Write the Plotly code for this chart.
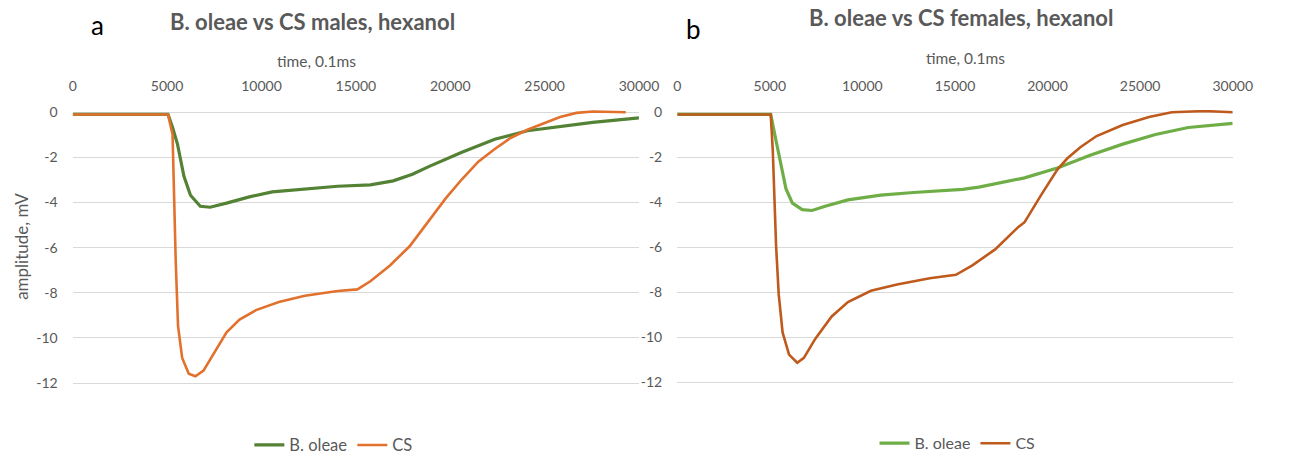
import plotly.graph_objects as go

W, H = 1290, 463

# Panel a: males (time in 0.1 ms units, amplitude in mV)
time_males_oleae = [0, 2500, 5050, 5300, 5550, 5890, 6240, 6760, 7280, 8150, 9360, 10570,
                    12300, 14040, 15770, 16980, 18000, 18890, 20620, 22360, 24090, 25820,
                    27550, 30000]
amp_males_oleae = [-0.1, -0.1, -0.1, -0.7, -1.41, -2.83, -3.68, -4.17, -4.21, -4.03, -3.75,
                   -3.53, -3.39, -3.28, -3.22, -3.04, -2.75, -2.40, -1.77, -1.20, -0.82,
                   -0.64, -0.45, -0.25]

time_males_cs = [0, 2500, 5050, 5290, 5370, 5460, 5580, 5800, 6150, 6500, 6930, 7450, 8150,
                 8840, 9710, 10920, 12300, 14040, 15080, 15770, 16810, 17850, 18890, 19760,
                 20620, 21490, 22360, 23220, 24090, 24960, 25820, 26690, 27550, 29300]
amp_males_cs = [-0.1, -0.1, -0.1, -0.99, -3.82, -6.65, -9.47, -10.89, -11.59, -11.70, -11.45,
                -10.74, -9.75, -9.19, -8.77, -8.41, -8.13, -7.92, -7.85, -7.49, -6.79, -5.94,
                -4.81, -3.82, -2.97, -2.19, -1.63, -1.13, -0.78, -0.49, -0.21, -0.03, 0.03,
                0.0]

# Panel b: females
time_females_oleae = [0, 2500, 5050, 5340, 5600, 5870, 6220, 6750, 7280, 7990, 9220, 10990,
                      12760, 14520, 15410, 16290, 18060, 18760, 20530, 22300, 24060, 25830,
                      27600, 30000]
amp_females_oleae = [-0.1, -0.1, -0.1, -1.28, -2.41, -3.40, -4.04, -4.33, -4.37, -4.18, -3.90,
                     -3.69, -3.57, -3.48, -3.43, -3.33, -3.05, -2.92, -2.48, -1.91, -1.42,
                     -0.99, -0.68, -0.50]

time_females_cs = [0, 2500, 5050, 5160, 5250, 5340, 5480, 5690, 6040, 6480, 6840, 7460, 8340,
                   9220, 10460, 11870, 13640, 15050, 15940, 17170, 18410, 18760, 19650, 20530,
                   21060, 21770, 22650, 24060, 25480, 26710, 28480, 30000]
amp_females_cs = [-0.1, -0.1, -0.1, -1.70, -3.83, -5.96, -8.09, -9.79, -10.78, -11.14, -10.92,
                  -10.07, -9.08, -8.44, -7.94, -7.66, -7.38, -7.23, -6.81, -6.10, -5.11, -4.89,
                  -3.69, -2.55, -2.06, -1.56, -1.06, -0.57, -0.21, 0.0, 0.05, 0.0]

x_ticks = [0, 5000, 10000, 15000, 20000, 25000, 30000]
y_ticks = [0, -2, -4, -6, -8, -10, -12]

FONT = "Lato"
GREY = "#595959"


def fx(p):
    return p / W


def fy(p):
    return 1 - p / H


fig = go.Figure()

series = [
    (time_males_oleae, amp_males_oleae, "B. oleae", "#548235", 3.2, "x", "y", "legend"),
    (time_males_cs, amp_males_cs, "CS", "#E2712D", 2.6, "x", "y", "legend"),
    (time_females_oleae, amp_females_oleae, "B. oleae", "#6FAE46", 3.2, "x2", "y2", "legend2"),
    (time_females_cs, amp_females_cs, "CS", "#BF5A1C", 2.6, "x2", "y2", "legend2"),
]
for xs, ys, name, color, width, xa, ya, lg in series:
    fig.add_trace(go.Scatter(
        x=xs, y=ys, mode="lines", name=name,
        line=dict(color=color, width=width),
        xaxis=xa, yaxis=ya, legend=lg, hoverinfo="skip",
    ))


def x_axis(left, right, anchor):
    return dict(
        domain=[fx(left), fx(right)], range=[0, 30000], side="top", anchor=anchor,
        tickvals=x_ticks, ticktext=[str(v) for v in x_ticks],
        showgrid=False, zeroline=False, showline=False, ticks="",
        ticklabelstandoff=15, tickfont=dict(family=FONT, size=14, color=GREY),
        fixedrange=True,
    )


def y_axis(top, bottom, anchor):
    return dict(
        domain=[fy(bottom), fy(top)], range=[-12.05, 0.1], anchor=anchor,
        tickvals=y_ticks, ticktext=[str(v) for v in y_ticks],
        showgrid=True, gridcolor="#d9d9d9", gridwidth=1,
        zeroline=False, showline=False, ticks="",
        ticklabelstandoff=14, tickfont=dict(family=FONT, size=14, color=GREY),
        fixedrange=True,
    )


# vertical extents include the small margin above 0 and below -12
fig.update_layout(
    width=W, height=H,
    margin=dict(l=0, r=0, t=0, b=0),
    paper_bgcolor="white", plot_bgcolor="white",
    font=dict(family=FONT, color=GREY),
    xaxis=x_axis(70, 647, "y"),
    yaxis=y_axis(107.6, 394.2, "x"),
    xaxis2=x_axis(686, 1252, "y2"),
    yaxis2=y_axis(107.6, 393.2, "x2"),
    legend=dict(orientation="h", x=fx(250), y=fy(458), xanchor="left", yanchor="middle",
                font=dict(family=FONT, size=16.5, color=GREY), bgcolor="rgba(0,0,0,0)",
                itemwidth=30),
    legend2=dict(orientation="h", x=fx(887), y=fy(456), xanchor="left", yanchor="middle",
                 font=dict(family=FONT, size=16, color=GREY), bgcolor="rgba(0,0,0,0)",
                 itemwidth=30),
)

annotations = [
    dict(text="a", x=fx(95), y=fy(19), font=dict(family=FONT, size=26, color="black")),
    dict(text="b", x=fx(703), y=fy(23), font=dict(family=FONT, size=26, color="black")),
    dict(text="<b>B. oleae vs CS males, hexanol</b>", x=fx(314), y=fy(15),
         font=dict(family=FONT, size=22, color=GREY)),
    dict(text="<b>B. oleae vs CS females, hexanol</b>", x=fx(975), y=fy(11),
         font=dict(family=FONT, size=22, color=GREY)),
    dict(text="time, 0.1ms", x=fx(318), y=fy(56), font=dict(family=FONT, size=15.5, color=GREY)),
    dict(text="time, 0.1ms", x=fx(980), y=fy(53), font=dict(family=FONT, size=15.5, color=GREY)),
    dict(text="amplitude, mV", x=fx(18), y=fy(250), textangle=-90,
         font=dict(family=FONT, size=17, color=GREY)),
]
for a in annotations:
    a.update(xref="paper", yref="paper", showarrow=False, xanchor="center", yanchor="middle")
fig.update_layout(annotations=annotations)

fig.write_html("out.html", config={"displayModeBar": False})
